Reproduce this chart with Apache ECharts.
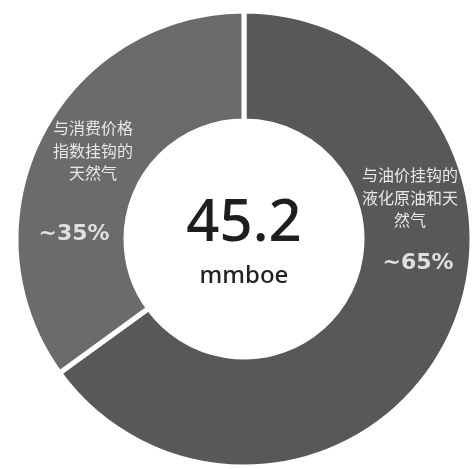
<!DOCTYPE html>
<html>
<head>
<meta charset="utf-8">
<script src="https://cdn.jsdelivr.net/npm/echarts@6/dist/echarts.min.js"></script>
<style>
  html, body { margin: 0; padding: 0; background: #ffffff; }
  #chart { width: 473px; height: 469px; }
</style>
</head>
<body>
<div id="chart"></div>
<script>
// Reserve split by pricing mechanism
const categories = [
  ['与油价挂钩的', '液化原油和天', '然气'],
  ['与消费价格', '指数挂钩的', '天然气']
];
const shares = [65, 35];           // percent of total
const totalValue = '45.2';
const totalUnit = 'mmboe';
const sliceColors = ['#585858', '#6b6b6b'];

const cx = 244, cy = 239;
const rIn = 118, rOut = 228;

// label anchor positions for each slice's caption block
const labelPos = [
  { x: 410, y: 175, pctX: 418, pctY: 263 },
  { x: 93,  y: 128, pctX: 74,  pctY: 234 }
];

const chart = echarts.init(document.getElementById('chart'), null, { renderer: 'canvas' });

const graphics = [];
categories.forEach((lines, i) => {
  const p = labelPos[i];
  graphics.push({
    type: 'text',
    x: p.x, y: p.y - 11,
    z: 100,
    silent: true,
    style: {
      text: lines.join('\n'),
      fill: '#e8e8e8',
      fontSize: 16,
      fontFamily: '"Noto Sans CJK SC", sans-serif',
      lineHeight: 22.5,
      align: 'center',
      verticalAlign: 'top'
    }
  });
  graphics.push({
    type: 'text',
    x: p.pctX, y: p.pctY,
    z: 100,
    silent: true,
    style: {
      text: '~' + shares[i] + '%',
      fill: '#e0e0e0',
      fontSize: 22,
      fontWeight: 'bold',
      fontFamily: '"DejaVu Sans", sans-serif',
      align: 'center',
      verticalAlign: 'middle'
    }
  });
});
graphics.push({
  type: 'text', x: cx, y: 224, z: 100, silent: true,
  style: {
    text: totalValue, fill: '#1e1e1e', fontSize: 58, fontWeight: 500,
    fontFamily: '"Noto Sans", sans-serif',
    align: 'center', verticalAlign: 'middle'
  }
});
graphics.push({
  type: 'text', x: cx, y: 276, z: 100, silent: true,
  style: {
    text: totalUnit, fill: '#222222', fontSize: 24, fontWeight: 500,
    fontFamily: '"Noto Sans", sans-serif',
    align: 'center', verticalAlign: 'middle'
  }
});

chart.setOption({
  backgroundColor: '#ffffff',
  animation: false,
  series: [{
    type: 'pie',
    z: 1,
    center: [cx, cy],
    radius: [rIn, rOut],
    startAngle: 90,
    clockwise: true,
    silent: true,
    label: { show: false },
    labelLine: { show: false },
    itemStyle: { borderColor: '#ffffff', borderWidth: 5 },
    data: shares.map((v, i) => ({
      value: v,
      name: categories[i].join(''),
      itemStyle: { color: sliceColors[i] }
    }))
  }],
  graphic: graphics
});
</script>
</body>
</html>
